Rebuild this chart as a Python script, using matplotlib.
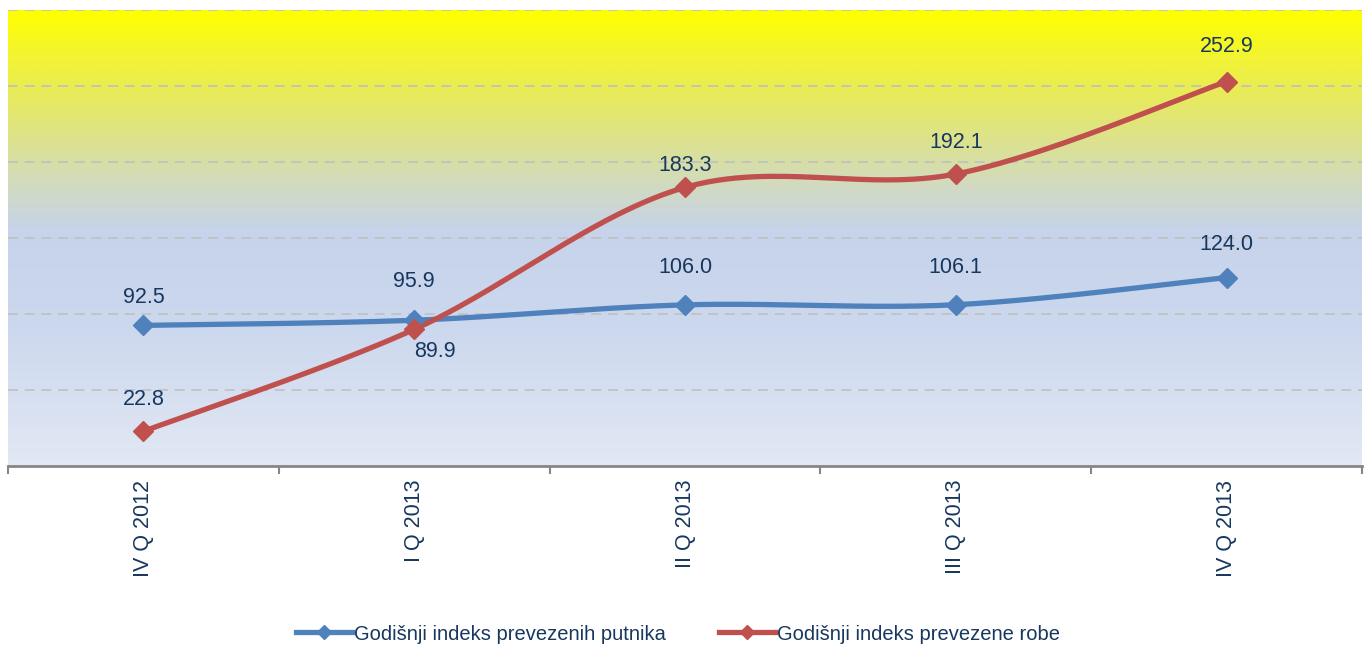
import numpy as np
import matplotlib
matplotlib.use("Agg")
import matplotlib.pyplot as plt
from matplotlib.colors import LinearSegmentedColormap
from matplotlib.lines import Line2D

plt.rcParams['font.family'] = ['Liberation Sans', 'DejaVu Sans']

categories = ["IV Q 2012", "I Q 2013", "II Q 2013", "III Q 2013", "IV Q 2013"]
putnici = [92.5, 95.9, 106.0, 106.1, 124.0]
roba = [22.8, 89.9, 183.3, 192.1, 252.9]
series_names = ["Godišnji indeks prevezenih putnika", "Godišnji indeks prevezene robe"]

# label offsets in points (dx, dy)
off_putnici = [(0, 20), (0, 28), (0, 27), (0, 27), (0, 24)]
off_roba = [(0, 23), (15, -16), (0, 16), (0, 23), (0, 25)]

BLUE = "#4F81BD"
RED = "#C0504D"
TXT = "#17375E"


def smooth(xs, ys, n=60):
    xs = np.asarray(xs, float)
    ys = np.asarray(ys, float)
    P = np.column_stack([xs, ys])
    out = []
    m = len(P)
    for i in range(m - 1):
        p0 = P[max(i - 1, 0)]
        p1 = P[i]
        p2 = P[i + 1]
        p3 = P[min(i + 2, m - 1)]
        b1 = p1 + (p2 - p0) / 6.0
        b2 = p2 - (p3 - p1) / 6.0
        t = np.linspace(0, 1, n)[:, None]
        seg = ((1 - t) ** 3) * p1 + 3 * ((1 - t) ** 2) * t * b1 + 3 * (1 - t) * t ** 2 * b2 + t ** 3 * p2
        out.append(seg if i == 0 else seg[1:])
    s = np.vstack(out)
    return s[:, 0], s[:, 1]


fig = plt.figure(figsize=(13.7, 6.45), dpi=100)
ax = fig.add_axes([8 / 1370, (645 - 466) / 645, (1362 - 8) / 1370, (466 - 10) / 645])

x = np.arange(len(categories))
ax.set_xlim(-0.5, len(categories) - 0.5)
ax.set_ylim(0, 300)

# gradient background
stops = [(0.0, "#E2E8F4"), (0.30, "#CCD8EE"), (0.52, "#C6D3EA"), (0.62, "#D2DBBE"),
         (0.80, "#E6E963"), (1.0, "#FFFF00")]
cmap = LinearSegmentedColormap.from_list("bg", stops)
grad = np.linspace(0, 1, 512)[:, None]
ax.imshow(grad, aspect="auto", cmap=cmap, origin="lower",
          extent=[-0.5, len(categories) - 0.5, 0, 300], zorder=0)

for gy in range(50, 301, 50):
    ax.axhline(gy, color="#BFBFBF", lw=1.2, ls=(0, (6, 4)), zorder=1)

for vals, col, offs in [(putnici, BLUE, off_putnici), (roba, RED, off_roba)]:
    sx, sy = smooth(x, vals)
    ax.plot(sx, sy, color=col, lw=3.8, zorder=3, solid_capstyle="round")
    ax.plot(x, vals, ls="none", marker="D", ms=10, color=col, zorder=4)
    for xi, v, (dx, dy) in zip(x, vals, offs):
        ax.annotate(f"{v:.1f}", (xi, v), xytext=(dx, dy), textcoords="offset points",
                    ha="center", va="center", fontsize=15.5, color=TXT, zorder=5)

for s in ["top", "right", "left"]:
    ax.spines[s].set_visible(False)
ax.spines["bottom"].set_color("#868686")
ax.spines["bottom"].set_linewidth(2)
ax.set_yticks([])
ax.set_xticks(x)
ax.set_xticklabels(categories, rotation=90, fontsize=15.5, color=TXT)
ax.tick_params(axis="x", which="major", length=0, pad=10)
ax.set_xticks(np.arange(-0.5, len(categories), 1.0), minor=True)
ax.tick_params(axis="x", which="minor", length=6, width=1.5, color="#868686", direction="out")

handles = [Line2D([], [], color=BLUE, lw=3.8, marker="D", ms=7),
           Line2D([], [], color=RED, lw=3.8, marker="D", ms=7)]
leg = fig.legend(handles, series_names, loc="center", bbox_to_anchor=(0.5 - 7 / 1370, 1 - 634 / 645),
                 ncol=2, frameon=False, fontsize=14.5, handlelength=2.8, handletextpad=0.1,
                 columnspacing=2.6, markerscale=1.0)
for t in leg.get_texts():
    t.set_color(TXT)

fig.savefig("out.png", dpi=100)
